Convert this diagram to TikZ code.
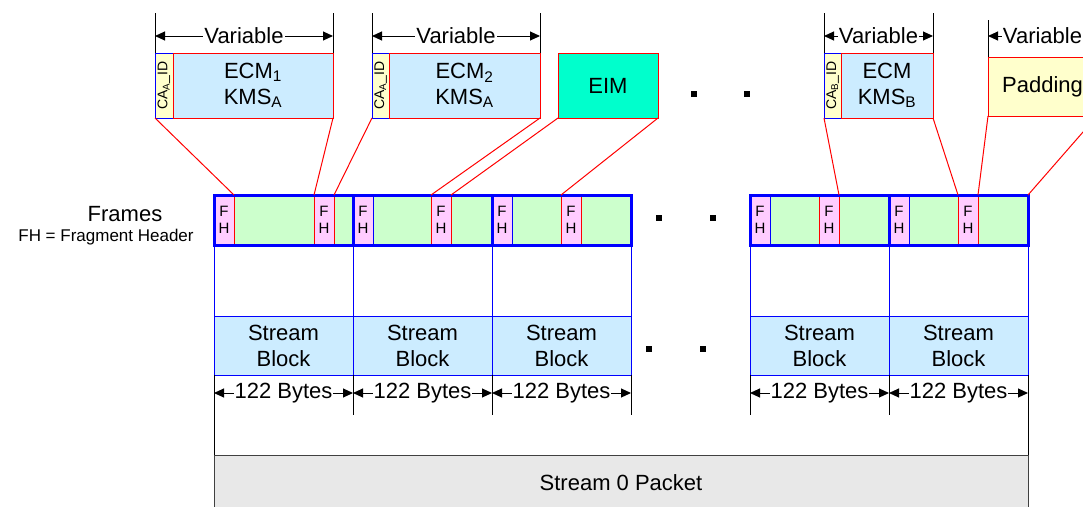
\documentclass[tikz,border=0pt]{standalone}
\usepackage{fontspec}
\usepackage{graphicx}
\setmainfont{Liberation Sans}
\usetikzlibrary{positioning,arrows.meta}

\definecolor{ecmblue}{RGB}{204,236,255}
\definecolor{cayellow}{RGB}{255,255,204}
\definecolor{eimgreen}{RGB}{0,255,204}
\definecolor{framegreen}{RGB}{204,255,204}
\definecolor{fhpink}{RGB}{255,204,255}
\definecolor{pktgray}{RGB}{232,232,232}

\tikzset{
  box/.style={rectangle,inner sep=0pt,outer sep=0pt,anchor=north west,align=center},
  bigtext/.style={font=\fontsize{22}{26}\selectfont},
  caid/.style={box,draw=blue,fill=cayellow,minimum height=65pt,font=\fontsize{14}{16}\selectfont},
  ecm/.style={box,bigtext,draw=red,fill=ecmblue,minimum height=65pt},
  framebg/.style={box,fill=framegreen,minimum width=139pt,minimum height=50pt},
  frameedge/.style={draw=blue,line width=3pt},
  fh/.style={box,draw=#1,fill=fhpink,minimum width=20pt,minimum height=50pt,font=\fontsize{15}{17}\selectfont},
  block/.style={box,bigtext,draw=blue,fill=ecmblue,minimum width=139pt,minimum height=59pt},
  packet/.style={box,bigtext,draw=black!75,fill=pktgray,minimum width=814pt,minimum height=56pt},
  link/.style={red,line width=1pt},
  dim/.style={{Triangle[length=10pt,width=9pt]}-{Triangle[length=10pt,width=9pt]},line width=1pt},
  dimlabel/.style={fill=white,inner sep=1pt,font=\fontsize{22}{24}\selectfont},
  dot/.style={fill=black,minimum size=6pt,inner sep=0pt}
}

\begin{document}
\begin{tikzpicture}[x=1pt,y=-1pt]
\useasboundingbox (0,0) rectangle (1083,506);
\clip (0,0) rectangle (1083,506);

% upper row: ECM / EIM / padding
\node[caid,minimum width=18pt] (ca1) at (155,53) {\rotatebox{90}{CA\textsubscript{A}\_ID}};
\node[ecm,minimum width=160pt,right=0pt of ca1] (e1) {ECM\textsubscript{1}\\KMS\textsubscript{A}};
\node[caid,minimum width=17pt] (ca2) at (372,53) {\rotatebox{90}{CA\textsubscript{A}\_ID}};
\node[ecm,minimum width=151pt,right=0pt of ca2] (e2) {ECM\textsubscript{2}\\KMS\textsubscript{A}};
\node[ecm,fill=eimgreen,minimum width=100pt] (eim) at (558,53) {EIM};
\node[caid,minimum width=17pt] (cab) at (824,53) {\rotatebox{90}{CA\textsubscript{B}\_ID}};
\node[ecm,minimum width=92pt,right=0pt of cab] (eb) {ECM\\KMS\textsubscript{B}};
\node[ecm,fill=cayellow,minimum width=109pt,minimum height=59pt] (pad) at (988,57) {Padding};

% variable lengths
\foreach \a/\b/\h/\s in {ca1/e1/40/17,ca2/e2/40/17,cab/eb/40/17,pad/pad/37/21} {
  \draw[line width=1pt] (\a.north west) -- ++(0,-\h);
  \draw[line width=1pt] (\b.north east) -- ++(0,-\h);
  \draw[dim] ([yshift=\s pt]\a.north west) -- node[dimlabel] {Variable} ([yshift=\s pt]\b.north east);
}

% frames
\node[bigtext] (frm) at (125,214) {Frames};
\node[font=\fontsize{17}{20}\selectfont] (fhkey) at (106,237) {FH = Fragment Header};
\foreach \n/\x in {1/214,2/353,3/492,4/750,5/889}
  \node[framebg] (f\n) at (\x,195) {};
\foreach \n/\x/\c in {1/214/red,2/314/red,3/353/blue,4/431/red,5/492/blue,6/561/red,7/750/blue,8/819/red,9/889/blue,10/958/red}
  \node[fh=\c] (h\n) at (\x,195) {F\\H};
\foreach \n in {1,...,5}
  \draw[frameedge] (f\n.north west) rectangle (f\n.south east);

% where each piece goes
\draw[link] (ca1.south west) -- (h1.north east);
\draw[link] (e1.south east) -- (h2.north west);
\draw[link] (ca2.south west) -- (h2.north east);
\draw[link] (e2.south east) -- (h4.north west);
\draw[link] (eim.south west) -- (h4.north east);
\draw[link] (eim.south east) -- (h6.north west);
\draw[link] (cab.south west) -- (h8.north east);
\draw[link] (eb.south east) -- (h10.north west);
\draw[link] (pad.south west) -- (h10.north east);
\draw[link] (pad.south east) -- (f5.north east);

% stream blocks
\foreach \n/\x in {1/214,2/353,3/492,4/750,5/889} {
  \node[block] (s\n) at (\x,316) {Stream\\Block};
  \draw[blue] (f\n.south west) -- (s\n.north west);
}
\draw[blue] (f3.south east) -- (s3.north east);
\draw[blue] (f5.south east) -- (s5.north east);

% packet
\node[packet] (pk) at (214,455) {Stream 0 Packet};

% byte sizes
\foreach \n in {2,3,4,5}
  \draw[line width=1pt] (s\n.south west) -- ++(0,40);
\draw[line width=1pt] (s3.south east) -- ++(0,40);
\draw[line width=1pt] (s1.south west) -- (pk.north west);
\draw[line width=1pt] (s5.south east) -- (pk.north east);
\foreach \n in {1,...,5}
  \draw[dim] ([yshift=-18pt]s\n.south west) -- node[dimlabel] {122 Bytes} ([yshift=-18pt]s\n.south east);

% dots
\node[dot] (d1) at (694,94) {};
\node[dot] (d2) at (747,94) {};
\node[dot] (d3) at (659,218) {};
\node[dot] (d4) at (713,218) {};
\node[dot] (d5) at (649,349) {};
\node[dot] (d6) at (703,349) {};
\end{tikzpicture}
\end{document}
